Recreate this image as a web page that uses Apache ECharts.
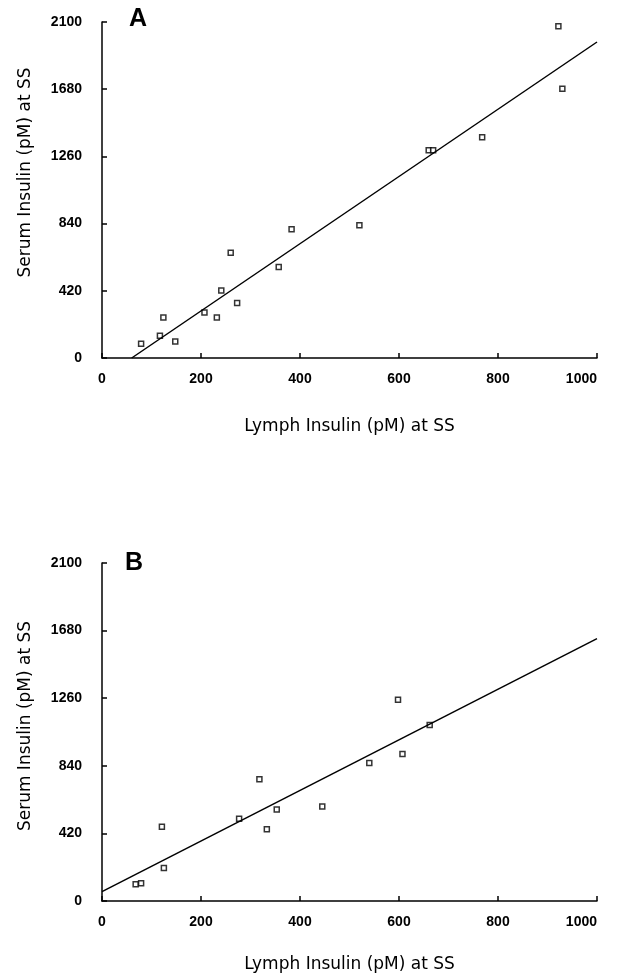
<!DOCTYPE html>
<html>
<head>
<meta charset="utf-8">
<script src="https://cdn.jsdelivr.net/npm/echarts@6/dist/echarts.min.js"></script>
<style>
html,body{margin:0;padding:0;background:#fff;}
#chart{width:623px;height:977px;}
</style>
</head>
<body>
<div id="chart"></div>
<script>
// Panel A: lymph insulin (x) vs serum insulin (y)
const lymphA = [79, 117, 124, 148, 207, 232, 241, 260, 273, 357, 383, 520, 660, 669, 768, 922, 930];
const serumA = [89, 139, 253, 103, 285, 253, 422, 658, 343, 569, 804, 829, 1299, 1299, 1380, 2073, 1683];
const fitA_x = [60, 1000];
const fitA_y = [0, 1975];

// Panel B
const lymphB = [68, 79, 121, 125, 277, 318, 333, 353, 445, 540, 598, 607, 662];
const serumB = [104, 110, 461, 205, 511, 756, 446, 569, 587, 858, 1250, 914, 1094];
const fitB_x = [0, 1000];
const fitB_y = [58, 1630];

const xTicks = [0, 200, 400, 600, 800, 1000];
const yTicks = [0, 420, 840, 1260, 1680, 2100];
const panelLabels = ['A', 'B'];
const xTitle = 'Lymph Insulin (pM) at SS';
const yTitle = 'Serum Insulin (pM) at SS';

const pairs = (xs, ys) => xs.map((x, i) => [x, ys[i]]);

const tickFont = {color: '#000', fontFamily: 'Liberation Sans', fontWeight: 'bold', fontSize: 14};
const titleFont = {color: '#000', fontFamily: 'DejaVu Sans', fontSize: 17};
const axisLine = {show: true, lineStyle: {color: '#000', width: 1.5}};
const plain = v => String(v);

function xAxis(idx, gap) {
  return {
    type: 'value', gridIndex: idx, min: xTicks[0], max: xTicks[xTicks.length - 1],
    interval: xTicks[1] - xTicks[0],
    axisLine: axisLine,
    axisTick: {show: true, inside: true, length: 5, lineStyle: {color: '#000', width: 1.5}},
    axisLabel: Object.assign({margin: 14, formatter: plain, alignMaxLabel: 'right'}, tickFont),
    splitLine: {show: false},
    name: xTitle, nameLocation: 'middle', nameGap: gap,
    nameTextStyle: titleFont
  };
}
function yAxis(idx, pad) {
  return {
    type: 'value', gridIndex: idx, min: yTicks[0], max: yTicks[yTicks.length - 1],
    interval: yTicks[1] - yTicks[0],
    axisLine: axisLine,
    axisTick: {show: true, inside: true, length: 5, lineStyle: {color: '#000', width: 1.5}},
    axisLabel: Object.assign({margin: 20, formatter: plain}, tickFont),
    splitLine: {show: false},
    name: yTitle, nameLocation: 'middle', nameGap: 68,
    nameTextStyle: Object.assign({padding: pad}, titleFont)
  };
}
const scatterStyle = {
  type: 'scatter', symbol: 'rect', symbolSize: 5,
  itemStyle: {color: '#fff', borderColor: '#000', borderWidth: 1.5}
};
const lineStyle = {
  type: 'line', showSymbol: false, symbol: 'none',
  lineStyle: {color: '#000', width: 1.5}
};

const chart = echarts.init(document.getElementById('chart'), null, {renderer: 'canvas'});
chart.setOption({
  backgroundColor: '#fff',
  animation: false,
  grid: [
    {left: 102, right: 26, top: 22, height: 336},
    {left: 102, right: 26, top: 563, height: 338}
  ],
  xAxis: [xAxis(0, 60), xAxis(1, 55)],
  yAxis: [yAxis(0, [0, 0, 0, 35]), yAxis(1, [0, 0, 0, 12])],
  graphic: [
    {type: 'text', left: 129, top: 7, style: {text: panelLabels[0], font: '900 25px "Liberation Sans"', fill: '#000'}},
    {type: 'text', left: 125, top: 551, style: {text: panelLabels[1], font: '900 25px "Liberation Sans"', fill: '#000'}}
  ],
  series: [
    Object.assign({xAxisIndex: 0, yAxisIndex: 0, data: pairs(lymphA, serumA)}, scatterStyle),
    Object.assign({xAxisIndex: 0, yAxisIndex: 0, data: pairs(fitA_x, fitA_y)}, lineStyle),
    Object.assign({xAxisIndex: 1, yAxisIndex: 1, data: pairs(lymphB, serumB)}, scatterStyle),
    Object.assign({xAxisIndex: 1, yAxisIndex: 1, data: pairs(fitB_x, fitB_y)}, lineStyle)
  ]
});
</script>
</body>
</html>
